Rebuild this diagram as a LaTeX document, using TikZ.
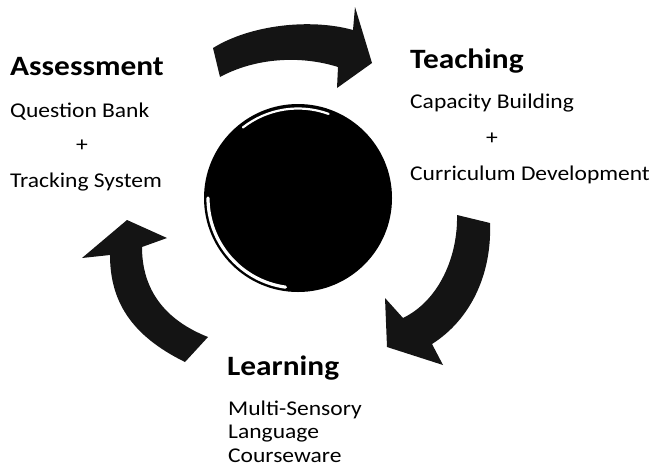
\documentclass[tikz,border=0pt]{standalone}
\usepackage{fontspec}
\usetikzlibrary{calc}
\setmainfont{Carlito}[FakeStretch=1.12]
\begin{document}
\begin{tikzpicture}[x=1pt,y=-1pt,
  arrowshape/.style={fill=black!92},
  heading/.style={anchor=base west,inner sep=0pt,font=\fontsize{28}{30}\selectfont\bfseries},
  item/.style={anchor=base west,inner sep=0pt,font=\fontsize{21}{23}\selectfont},
  plus/.style={anchor=base,inner sep=0pt,font=\fontsize{21}{23}\selectfont}]
\useasboundingbox (0,0) rectangle (652,469);

% central disc with its light rim highlights
\coordinate (c) at (298,198);
\fill[black] (c) circle (94);
\draw[white,line width=3.2pt,line cap=round] ($(c)+(98:90)$) arc (98:180:90);
\draw[white,line width=2.2pt,line cap=round] ($(c)+(232:89.5)$) arc (232:290:89.5);

% top arrow: Assessment -> Teaching
\fill[arrowshape] (213,48) .. controls (250,25) and (310,18) .. (353,30)
  -- (355,7) -- (372,63) -- (337,88) -- (338,67)
  .. controls (300,55) and (255,58) .. (220,77) -- cycle;

% right arrow: Teaching -> Learning
\fill[arrowshape] (457,215) -- (490,223)
  .. controls (492,275) and (470,320) .. (432,344)
  -- (443,365) -- (387,347) -- (385,298) -- (403,318)
  .. controls (440,300) and (458,255) .. (457,215) -- cycle;

% left arrow: Learning -> Assessment
\fill[arrowshape] (127,220) -- (167,238) -- (142,247)
  .. controls (142,290) and (165,320) .. (208,337)
  -- (185,362)
  .. controls (130,335) and (110,300) .. (110,255)
  -- (82,258) -- cycle;

% Assessment
\node[heading] (assess) at (10,75) {Assessment};
\node[item] (qbank) at (10,117) {Question Bank};
\node[plus] (aplus) at (82,151) {+};
\node[item] (track) at (10,187) {Tracking System};

% Teaching
\node[heading] (teach) at (410,68) {Teaching};
\node[item] (capacity) at (410,108) {Capacity Building};
\node[plus] (tplus) at (492,144) {+};
\node[item] (curric) at (410,180) {Curriculum Development};

% Learning
\node[heading] (learn) at (227,375) {Learning};
\node[item] (multi) at (228,415) {Multi-Sensory};
\node[item] (lang) at (228,438) {Language};
\node[item] (course) at (228,462) {Courseware};
\end{tikzpicture}
\end{document}
